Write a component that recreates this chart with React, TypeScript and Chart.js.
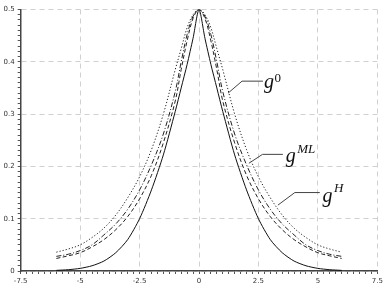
import React, { useEffect, useRef } from "react";
import { Chart, registerables } from "chart.js";

Chart.register(...registerables);

// x positions where the densities are sampled
const xs = [-6, -5.5, -5, -4.5, -4, -3.5, -3, -2.5, -2, -1.5, -1, -0.75, -0.5, -0.25, 0, 0.25, 0.5, 0.75, 1, 1.5, 2, 2.5, 3, 3.5, 4, 4.5, 5, 5.5, 6];

// solid curve
const gSolid = [0.0012, 0.0025, 0.005, 0.01, 0.019, 0.035, 0.06, 0.1, 0.155, 0.222, 0.305, 0.35, 0.395, 0.445, 0.5, 0.445, 0.395, 0.35, 0.305, 0.222, 0.155, 0.1, 0.06, 0.035, 0.019, 0.01, 0.005, 0.0025, 0.0012];
// dashed curve
const gDashed = [0.024, 0.029, 0.035, 0.046, 0.06, 0.079, 0.104, 0.138, 0.183, 0.245, 0.325, 0.385, 0.44, 0.483, 0.5, 0.483, 0.44, 0.385, 0.325, 0.245, 0.183, 0.138, 0.104, 0.079, 0.06, 0.046, 0.035, 0.029, 0.024];
// dash-dot curve
const gDashDot = [0.028, 0.032, 0.039, 0.05, 0.069, 0.09, 0.118, 0.155, 0.203, 0.262, 0.343, 0.4, 0.452, 0.487, 0.5, 0.487, 0.452, 0.4, 0.343, 0.262, 0.203, 0.155, 0.118, 0.09, 0.069, 0.05, 0.039, 0.032, 0.028];
// dotted curve
const gDotted = [0.036, 0.042, 0.05, 0.064, 0.082, 0.107, 0.14, 0.18, 0.232, 0.3, 0.385, 0.425, 0.465, 0.49, 0.5, 0.49, 0.465, 0.425, 0.385, 0.3, 0.232, 0.18, 0.14, 0.107, 0.082, 0.064, 0.05, 0.042, 0.036];

// annotations (data units)
const annSup = ["0", "ML", "H"];
const annTipX = [1.22, 2.1, 3.32];
const annTipY = [0.34, 0.206, 0.126];
const annKneeX = [1.81, 2.67, 4.03];
const annKneeY = [0.363, 0.223, 0.15];
const annEndX = [2.69, 3.53, 5.08];
const annTextX = [2.73, 3.65, 5.2];
const annTextY = [0.349, 0.209, 0.1325];
const annSupX = [3.18, 4.13, 5.68];
const annSupY = [0.362, 0.226, 0.152];

const isMajor = (v: number, step: number) => Math.abs(v / step - Math.round(v / step)) < 1e-6;

const annotationPlugin = {
  id: "gAnnotations",
  afterDatasetsDraw(chart: any) {
    const { ctx } = chart;
    const x = chart.scales.x;
    const y = chart.scales.y;
    ctx.save();
    ctx.strokeStyle = "#444";
    ctx.lineWidth = 1;
    ctx.fillStyle = "#111";
    ctx.textBaseline = "alphabetic";
    ctx.textAlign = "left";
    for (let i = 0; i < annSup.length; i++) {
      ctx.beginPath();
      ctx.moveTo(x.getPixelForValue(annTipX[i]), y.getPixelForValue(annTipY[i]));
      ctx.lineTo(x.getPixelForValue(annKneeX[i]), y.getPixelForValue(annKneeY[i]));
      ctx.lineTo(x.getPixelForValue(annEndX[i]), y.getPixelForValue(annKneeY[i]));
      ctx.stroke();
      ctx.font = 'italic 20px "Liberation Serif"';
      ctx.fillText("g", x.getPixelForValue(annTextX[i]), y.getPixelForValue(annTextY[i]));
      const digit = /^\d+$/.test(annSup[i]);
      ctx.font = (digit ? "" : "italic ") + '13px "Liberation Serif"';
      ctx.fillText(annSup[i], x.getPixelForValue(annSupX[i]), y.getPixelForValue(annSupY[i]));
    }
    ctx.restore();
  },
};

export default function App() {
  const ref = useRef<HTMLCanvasElement | null>(null);
  useEffect(() => {
    if (!ref.current) return;
    const mk = (vals: number[]) => xs.map((v, i) => ({ x: v, y: vals[i] }));
    const gridOpts = (step: number) => ({
      color: (c: any) => (c.tick && isMajor(c.tick.value, step) ? "#d0d0d0" : "rgba(0,0,0,0)"),
      borderDash: [5, 4],
      tickColor: "#555",
      tickLength: 3,
      lineWidth: 1,
    });
    const chart = new Chart(ref.current, {
      type: "line",
      data: {
        datasets: [
          { label: "solid", data: mk(gSolid), borderColor: "#111", borderWidth: 1, pointRadius: 0, tension: 0.25, fill: false },
          { label: "dashed", data: mk(gDashed), borderColor: "#222", borderWidth: 1, borderDash: [4, 2.5], pointRadius: 0, tension: 0.35, fill: false },
          { label: "dashdot", data: mk(gDashDot), borderColor: "#222", borderWidth: 1, borderDash: [5, 2, 1, 2], pointRadius: 0, tension: 0.35, fill: false },
          { label: "dotted", data: mk(gDotted), borderColor: "#222", borderWidth: 1, borderDash: [1.2, 2], pointRadius: 0, tension: 0.35, fill: false },
        ],
      },
      options: {
        animation: false,
        responsive: true,
        maintainAspectRatio: false,
        layout: { padding: { left: 0, right: 10.7, top: 9.5, bottom: 0 } },
        plugins: { legend: { display: false }, tooltip: { enabled: false } },
        scales: {
          x: {
            type: "linear",
            min: -7.5,
            max: 7.5,
            afterFit: (s: any) => { s.height = 20; },
            border: { display: true, color: "#444", width: 1.5, dash: [5, 4] },
            grid: gridOpts(2.5) as any,
            ticks: {
              stepSize: 0.25,
              autoSkip: false,
              maxRotation: 0,
              padding: 3,
              color: "#333",
              font: { family: "DejaVu Sans", size: 7 },
              callback: (v: any) => (isMajor(Number(v), 2.5) ? String(Number(v)) : ""),
            },
          },
          y: {
            type: "linear",
            min: 0,
            max: 0.5,
            afterFit: (s: any) => { s.width = 20.7; },
            border: { display: true, color: "#444", width: 1.5, dash: [5, 4] },
            grid: gridOpts(0.1) as any,
            ticks: {
              stepSize: 0.01,
              autoSkip: false,
              padding: 3,
              color: "#333",
              font: { family: "DejaVu Sans", size: 7 },
              callback: (v: any) => {
                const n = Number(v);
                if (!isMajor(n, 0.1)) return "";
                return n === 0 ? "0" : n.toFixed(1);
              },
            },
          },
        },
      },
      plugins: [annotationPlugin],
    });
    return () => chart.destroy();
  }, []);
  return (
    <div style={{ position: "fixed", left: 0, top: 0, width: 388, height: 291, background: "#fff" }}>
      <canvas ref={ref} />
    </div>
  );
}
